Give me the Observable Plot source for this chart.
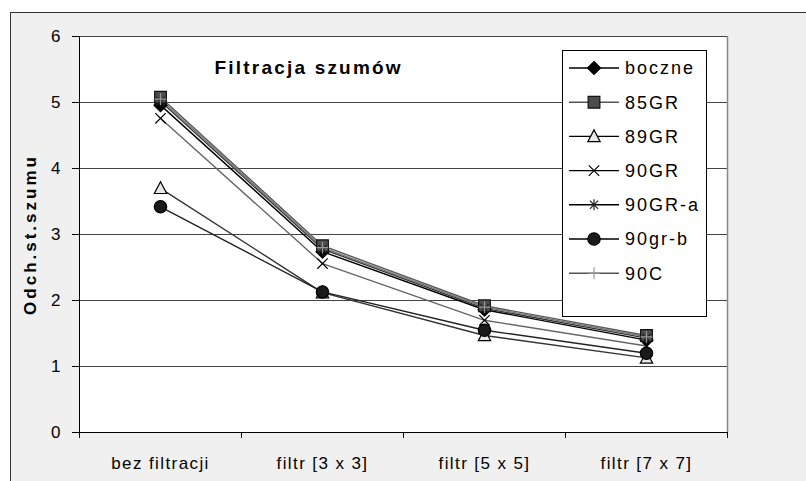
<!DOCTYPE html>
<html>
<head>
<meta charset="utf-8">
<script src="https://cdn.jsdelivr.net/npm/d3@7"></script>
<script src="https://cdn.jsdelivr.net/npm/@observablehq/plot@0.6"></script>
<style>
  html, body { margin: 0; padding: 0; background: #fff; }
  #wrap { position: relative; width: 806px; height: 481px; overflow: hidden; }
  #panel { position: absolute; left: 10px; top: 12px; width: 800px; height: 480px;
           background: #f0f0f0; border-top: 1px solid #333; border-left: 1px solid #333; }
  #chart { position: absolute; left: 0; top: 0; }
  #chart g[aria-label="x-axis tick label"] text { letter-spacing: 1.4px; }
  #chart g[aria-label="y-axis tick label"] text { letter-spacing: 0; }
  #chart .legend text { letter-spacing: 2px; }
  #chart .title { letter-spacing: 2.2px; }
  #chart .ytitle { letter-spacing: 3px; }
</style>
</head>
<body>
<div id="wrap"><div id="panel"></div><div id="chart"></div></div>
<script>
// Categories (filter size) and noise standard deviation per series
const categories = ["bez filtracji", "filtr [3 x 3]", "filtr [5 x 5]", "filtr [7 x 7]"];
const seriesNames = ["boczne", "85GR", "89GR", "90GR", "90GR-a", "90gr-b", "90C"];
const boczne = [4.96, 2.74, 1.86, 1.40];
const gr85   = [5.08, 2.83, 1.92, 1.47];
const gr89   = [3.70, 2.12, 1.47, 1.13];
const gr90   = [4.76, 2.56, 1.70, 1.31];
const gr90a  = [5.02, 2.78, 1.88, 1.43];
const gr90b  = [3.42, 2.13, 1.55, 1.20];
const c90    = [5.05, 2.80, 1.90, 1.45];
const yTicks = [0, 1, 2, 3, 4, 5, 6];

const values = [boczne, gr85, gr89, gr90, gr90a, gr90b, c90];

// Marker shapes; s is the radius Plot derives from r
const rad = (size) => Math.sqrt(size / Math.PI);
const symDiamond = { draw(c, size) { const s = rad(size); c.moveTo(0, -s); c.lineTo(s, 0); c.lineTo(0, s); c.lineTo(-s, 0); c.closePath(); } };
const symSquare = { draw(c, size) { const s = rad(size) * 0.9; c.rect(-s, -s, 2 * s, 2 * s); } };
const symTriangle = { draw(c, size) { const s = rad(size); c.moveTo(0, -s); c.lineTo(s * 0.95, s * 0.8); c.lineTo(-s * 0.95, s * 0.8); c.closePath(); } };
const symTimes = { draw(c, size) { const s = rad(size) * 0.8; c.moveTo(-s, -s); c.lineTo(s, s); c.moveTo(s, -s); c.lineTo(-s, s); } };
const symAsterisk = { draw(c, size) { const s = rad(size) * 0.85; const d = s * 0.75; c.moveTo(0, -s); c.lineTo(0, s); c.moveTo(-d, -d); c.lineTo(d, d); c.moveTo(d, -d); c.lineTo(-d, d); } };
const symCircle = { draw(c, size) { const s = rad(size) * 0.95; c.moveTo(s, 0); c.arc(0, 0, s, 0, 2 * Math.PI); } };
const symPlus = { draw(c, size) { const s = rad(size) * 0.9; c.moveTo(0, -s); c.lineTo(0, s); c.moveTo(-s, 0); c.lineTo(s, 0); } };

const styles = [
  { line: "#000",    symbol: symDiamond,  fill: "#000",    stroke: "#000" },
  { line: "#5a5a5a", symbol: symSquare,   fill: "#4d4d4d", stroke: "#111" },
  { line: "#333",    symbol: symTriangle, fill: "#e8e8e8", stroke: "#000" },
  { line: "#666",    symbol: symTimes,    fill: "none",    stroke: "#000" },
  { line: "#333",    symbol: symAsterisk, fill: "none",    stroke: "#222" },
  { line: "#222",    symbol: symCircle,   fill: "#1a1a1a", stroke: "#000" },
  { line: "#777",    symbol: symPlus,     fill: "none",    stroke: "#999" }
];

const rows = seriesNames.map((name, k) => values[k].map((v, i) => ({ series: name, x: i + 0.5, y: v })));

const font = "'Liberation Sans', Arial, sans-serif";

const marks = [
  Plot.frame({ fill: "white", stroke: "none" }),
  Plot.ruleY(yTicks.filter(d => d > 0), { stroke: "#444", strokeWidth: 1 }),
  Plot.ruleX([4], { stroke: "#888", strokeWidth: 1.5 }),
  Plot.axisY({ ticks: yTicks, tickSize: 7, tickPadding: 12, fontSize: 17, tickFormat: d3.format("d"),
               stroke: "#000", fill: "#000", label: null }),
  Plot.axisX({ ticks: [0, 1, 2, 3, 4], tickSize: 6, tickFormat: () => "", stroke: "#000", label: null }),
  Plot.axisX({ ticks: [0.5, 1.5, 2.5, 3.5], tickSize: 0, tickPadding: 24, fontSize: 17, fill: "#000",
               tickFormat: d => categories[Math.floor(d)], label: null }),
  Plot.ruleY([0], { stroke: "#000" }),
  Plot.ruleX([0], { stroke: "#000" })
];

rows.forEach((data, k) => {
  marks.push(Plot.line(data, { x: "x", y: "y", stroke: styles[k].line, strokeWidth: 1.4 }));
});
rows.forEach((data, k) => {
  marks.push(Plot.dot(data, { x: "x", y: "y", symbol: styles[k].symbol, r: 6.5,
    fill: styles[k].fill, stroke: styles[k].stroke, strokeWidth: 1.2 }));
});

marks.push(Plot.text(["Odch.st.szumu"], { frameAnchor: "left", dx: -49, rotate: -90,
  fontSize: 17, fontWeight: "bold", fill: "#000", textAnchor: "middle" }));
marks.push(Plot.text(["Filtracja szumów"], { frameAnchor: "top-left", dx: 135, dy: 31,
  fontSize: 19, fontWeight: "bold", fill: "#000", textAnchor: "start", lineAnchor: "middle" }));

const svg = Plot.plot({
  width: 806,
  height: 481,
  marginLeft: 79,
  marginRight: 79,
  marginTop: 36,
  marginBottom: 49,
  style: `background: transparent; font-family: ${font}; overflow: visible;`,
  x: { type: "linear", domain: [0, 4], label: null },
  y: { type: "linear", domain: [0, 6], label: null },
  marks
});

// Tag the two free-standing texts for their letter spacing
d3.select(svg).selectAll('g[aria-label="text"] text').each(function () {
  const t = this.textContent;
  if (t === "Odch.st.szumu") this.classList.add("ytitle");
  else if (t === "Filtracja szumów") this.classList.add("title");
});

// Legend box
const lg = d3.select(svg).append("g").attr("class", "legend")
  .attr("font-family", font).attr("text-anchor", "start");
lg.append("rect").attr("x", 562.5).attr("y", 50.5).attr("width", 144).attr("height", 266)
  .attr("fill", "white").attr("stroke", "#000");
seriesNames.forEach((name, k) => {
  const cy = 68 + k * 34.2;
  const g = lg.append("g");
  g.append("line").attr("x1", 569).attr("x2", 619).attr("y1", cy).attr("y2", cy)
    .attr("stroke", k === 1 || k === 6 ? "#555" : "#000").attr("stroke-width", 1.4);
  g.append("path").attr("transform", `translate(594,${cy})`)
    .attr("d", d3.symbol(styles[k].symbol, 6.5 * 6.5 * Math.PI)())
    .attr("fill", styles[k].fill).attr("stroke", styles[k].stroke).attr("stroke-width", 1.2);
  g.append("text").attr("x", 625).attr("y", cy).attr("dy", "0.36em")
    .attr("font-size", 18).attr("fill", "#000").text(name);
});

document.getElementById("chart").appendChild(svg);
</script>
</body>
</html>
